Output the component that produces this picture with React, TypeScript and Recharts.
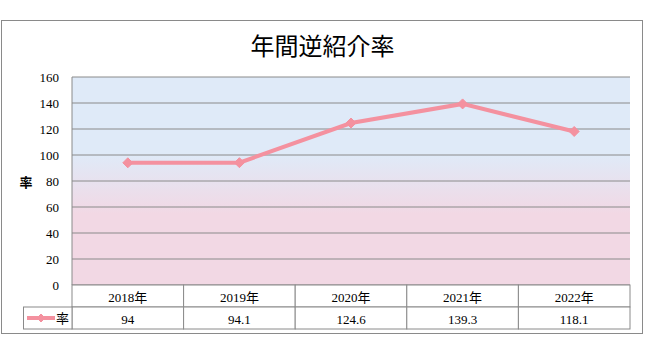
import React from "react";
import { CartesianGrid, Line, LineChart, XAxis, YAxis } from "recharts";

const years = ["2018年", "2019年", "2020年", "2021年", "2022年"];
const rates = [94, 94.1, 124.6, 139.3, 118.1];
const yTicks = [0, 20, 40, 60, 80, 100, 120, 140, 160];

const data = years.map((year, i) => ({ year, rate: rates[i] }));

const W = 647;
const H = 361;
const PLOT_LEFT = 72;
const PLOT_RIGHT = 630;
const PLOT_TOP = 77;
const PLOT_BOTTOM = 285;
const ROW1 = 22;
const ROW2 = 22;
const BAND = (PLOT_RIGHT - PLOT_LEFT) / years.length;
const LEGEND_LEFT = 23.5;

const PINK = "#f4919f";
const GRID = "#8a8a8a";
const FONT = "Liberation Serif, Noto Sans CJK JP, serif";
const textStyle = { fontFamily: FONT, fontSize: 13 };

function Diamond({ cx, cy, r = 5 }: { cx?: number; cy?: number; r?: number }) {
  if (cx == null || cy == null) return null;
  return (
    <polygon
      points={`${cx},${cy - r} ${cx + r},${cy} ${cx},${cy + r} ${cx - r},${cy}`}
      fill={PINK}
      stroke={PINK}
    />
  );
}

function TableTick(props: any) {
  const { payload, index } = props;
  const x = payload.coordinate;
  const left = x - BAND / 2;
  const top = PLOT_BOTTOM;
  return (
    <g>
      <rect x={left} y={top} width={BAND} height={ROW1} fill="#fff" stroke={GRID} />
      <rect x={left} y={top + ROW1} width={BAND} height={ROW2} fill="#fff" stroke={GRID} />
      <text x={x} y={top + ROW1 / 2 + 1} textAnchor="middle" dominantBaseline="central" style={textStyle} fill="#000">
        {payload.value}
      </text>
      <text x={x} y={top + ROW1 + ROW2 / 2 + 1} textAnchor="middle" dominantBaseline="central" style={textStyle} fill="#000">
        {rates[index]}
      </text>
      {index === 0 && (
        <g>
          <rect x={LEGEND_LEFT} y={top + ROW1} width={left - LEGEND_LEFT} height={ROW2} fill="#fff" stroke={GRID} />
          <line x1={27} x2={55} y1={top + ROW1 + ROW2 / 2} y2={top + ROW1 + ROW2 / 2} stroke={PINK} strokeWidth={4} />
          <Diamond cx={41} cy={top + ROW1 + ROW2 / 2} r={4} />
          <text x={56} y={top + ROW1 + ROW2 / 2} dominantBaseline="central" style={textStyle} fill="#000">
            率
          </text>
        </g>
      )}
    </g>
  );
}

export default function App() {
  return (
    <div style={{ position: "relative", width: W, height: H, background: "#fff" }}>
      <style>{"body{margin:0}"}</style>
      <div
        style={{
          position: "absolute",
          left: 1,
          top: 20,
          width: 642,
          height: 314,
          border: `1px solid ${GRID}`,
          boxSizing: "border-box",
        }}
      />
      <div
        style={{
          position: "absolute",
          left: 0,
          top: 29,
          width: W - 2,
          textAlign: "center",
          fontFamily: "Noto Sans CJK JP, sans-serif",
          fontSize: 24,
          lineHeight: "32px",
          color: "#000",
        }}
      >
        年間逆紹介率
      </div>
      <div style={{ position: "absolute", left: 0, top: 0 }}>
        <LineChart
          width={W}
          height={H}
          data={data}
          margin={{ top: PLOT_TOP, right: W - PLOT_RIGHT, bottom: H - PLOT_BOTTOM - ROW1 - ROW2, left: 0 }}
        >
          <defs>
            <linearGradient id="bg" x1="0" y1="0" x2="0" y2="1">
              <stop offset="0%" stopColor="#dfeaf8" />
              <stop offset="37%" stopColor="#dfeaf8" />
              <stop offset="66%" stopColor="#f2d8e4" />
              <stop offset="100%" stopColor="#f2d8e4" />
            </linearGradient>
          </defs>
          <CartesianGrid vertical={false} stroke={GRID} fill="url(#bg)" fillOpacity={1} />
          <XAxis
            dataKey="year"
            height={ROW1 + ROW2}
            padding={{ left: BAND / 2, right: BAND / 2 }}
            axisLine={false}
            tickLine={false}
            tickSize={0}
            tick={<TableTick />}
            interval={0}
          />
          <YAxis
            width={PLOT_LEFT}
            domain={[0, 160]}
            ticks={yTicks}
            axisLine={{ stroke: GRID }}
            tickLine={false}
            tickSize={0}
            tickMargin={13}
            tick={{ fontSize: 13, fill: "#000", style: { fontFamily: FONT } }}
          />
          <Line
            type="linear"
            dataKey="rate"
            stroke={PINK}
            strokeWidth={4}
            dot={(p: any) => <Diamond key={p.index} cx={p.cx} cy={p.cy} />}
            activeDot={false}
            isAnimationActive={false}
          />
          <text x={26} y={182} textAnchor="middle" dominantBaseline="central" fontWeight="bold" style={textStyle} fill="#000">
            率
          </text>
        </LineChart>
      </div>
    </div>
  );
}
